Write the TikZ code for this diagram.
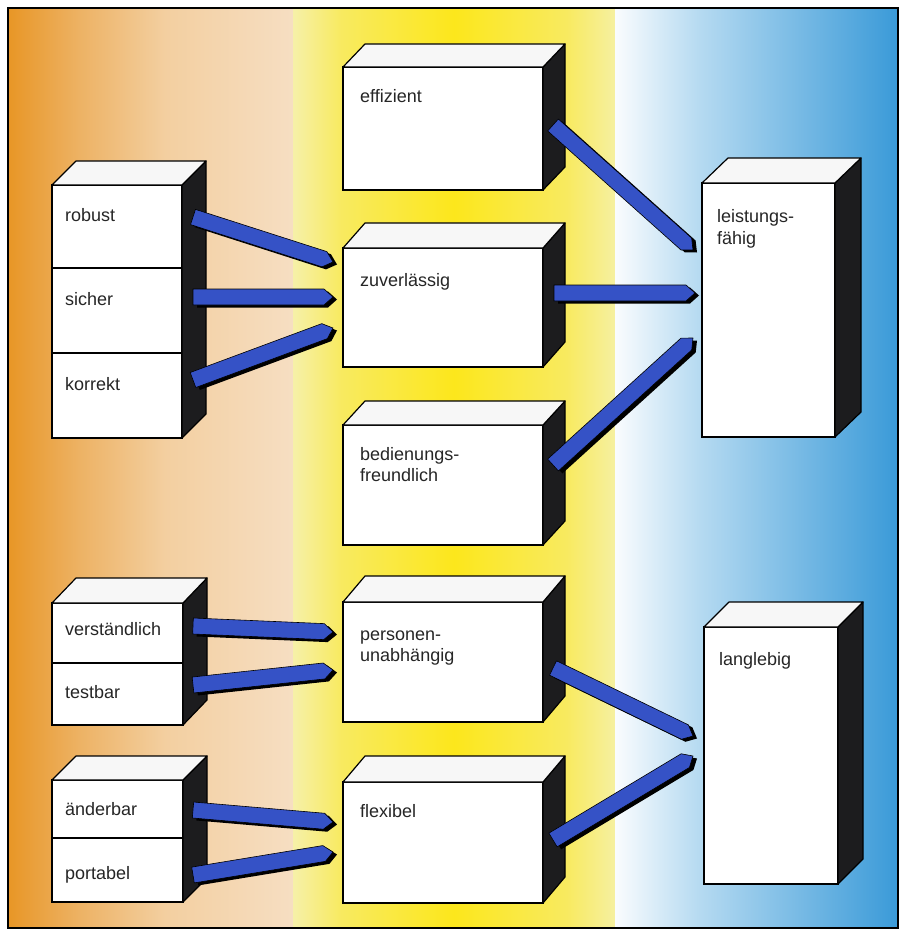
\documentclass[tikz,border=0pt]{standalone}
\usepackage{fontspec}
\setmainfont{Liberation Sans}
\usetikzlibrary{calc}
\definecolor{bandblue}{HTML}{3552C6}
\definecolor{sideclr}{HTML}{1C1C1E}
\definecolor{txt}{HTML}{262626}
\pgfdeclarehorizontalshading{orgshade}{100bp}{%
  color(0bp)=(rgb,255:red,232;green,150;blue,38);
  color(25bp)=(rgb,255:red,232;green,150;blue,38);
  color(37.5bp)=(rgb,255:red,237;green,178;blue,100);
  color(52.5bp)=(rgb,255:red,243;green,207;blue,160);
  color(75bp)=(rgb,255:red,246;green,222;blue,194);
  color(100bp)=(rgb,255:red,246;green,222;blue,194)}
\pgfdeclarehorizontalshading{ylwshade}{100bp}{%
  color(0bp)=(rgb,255:red,246;green,240;blue,168);
  color(25bp)=(rgb,255:red,246;green,240;blue,168);
  color(32.5bp)=(rgb,255:red,248;green,234;blue,96);
  color(50bp)=(rgb,255:red,252;green,231;blue,28);
  color(67.5bp)=(rgb,255:red,248;green,234;blue,96);
  color(75bp)=(rgb,255:red,246;green,240;blue,160);
  color(100bp)=(rgb,255:red,246;green,240;blue,160)}
\pgfdeclarehorizontalshading{blushade}{100bp}{%
  color(0bp)=(rgb,255:red,250;green,252;blue,254);
  color(25bp)=(rgb,255:red,250;green,252;blue,254);
  color(40bp)=(rgb,255:red,181;green,218;blue,241);
  color(75bp)=(rgb,255:red,58;green,154;blue,216);
  color(100bp)=(rgb,255:red,58;green,154;blue,216)}

\newcommand\cubefaces[3]{%
  \coordinate (cfNE) at (#2.north east |- #1.north west);
  \filldraw[sideface] (cfNE) -- ($(cfNE)+(#3)$) -- ($(#2.south east)+(#3)$) -- (#2.south east) -- cycle;
  \filldraw[topface] (#1.north west) -- ($(#1.north west)+(#3)$) -- ($(cfNE)+(#3)$) -- (cfNE) -- cycle;
}
\newcommand\bandarrow[2]{%
  \coordinate (bB) at ($(#2)!9pt!(#1)$);
  \fill[black, transform canvas={shift={(4pt,-2.5pt)}}]
    ($(#1)!8pt!90:(#2)$) -- ($(bB)!8pt!90:(#2)$) -- (#2) -- ($(bB)!8pt!-90:(#2)$) -- ($(#1)!8pt!-90:(#2)$) -- cycle;
  \filldraw[bandfill]
    ($(#1)!8pt!90:(#2)$) -- ($(bB)!8pt!90:(#2)$) -- (#2) -- ($(bB)!8pt!-90:(#2)$) -- ($(#1)!8pt!-90:(#2)$) -- cycle;
}

\begin{document}
\begin{tikzpicture}[x=1pt,y=-1pt,
  front/.style={draw=black, line width=1.2pt, fill=white, inner sep=0pt, outer sep=0pt, anchor=north west},
  sideface/.style={fill=sideclr, draw=black, line width=1.2pt, line join=round},
  topface/.style={fill=white!97!black, draw=black, line width=1.2pt, line join=round},
  bandfill/.style={fill=bandblue, draw=black, line width=0.6pt, line join=round},
  lbl/.style={anchor=base west, inner sep=0pt, text=txt, align=left, font=\fontsize{18}{21.5}\selectfont}]
\useasboundingbox (0,0) rectangle (906,933);
\fill[white] (0,0) rectangle (906,933);
% background bands
\shade[shading=orgshade] (8,8) rectangle (293,928);
\shade[shading=ylwshade] (293,8) rectangle (615,928);
\shade[shading=blushade] (615,8) rectangle (898,928);
\draw[black, line width=1.4pt] (8,8) rectangle (898,928);

% left boxes
\node[front, minimum width=130, minimum height=83] (robust) at (52,185) {};
\node[front, minimum width=130, minimum height=85] (sicher) at (52,268) {};
\node[front, minimum width=130, minimum height=85] (korrekt) at (52,353) {};
\cubefaces{robust}{korrekt}{24,-24}
\node[front, minimum width=131, minimum height=60] (vers) at (52,603) {};
\node[front, minimum width=131, minimum height=62] (test) at (52,663) {};
\cubefaces{vers}{test}{24,-25}
\node[front, minimum width=131, minimum height=58] (aend) at (52,780) {};
\node[front, minimum width=131, minimum height=64] (port) at (52,838) {};
\cubefaces{aend}{port}{24,-24}

% middle boxes
\node[front, minimum width=200, minimum height=123] (eff) at (343,67) {};
\cubefaces{eff}{eff}{22,-23}
\node[front, minimum width=200, minimum height=119] (zuv) at (343,248) {};
\cubefaces{zuv}{zuv}{22,-25}
\node[front, minimum width=200, minimum height=120] (bed) at (343,425) {};
\cubefaces{bed}{bed}{22,-24}
\node[front, minimum width=200, minimum height=120] (pers) at (343,602) {};
\cubefaces{pers}{pers}{22,-26}
\node[front, minimum width=200, minimum height=121] (flex) at (343,782) {};
\cubefaces{flex}{flex}{22,-26}

% right boxes
\node[front, minimum width=133, minimum height=254] (leist) at (702,183) {};
\cubefaces{leist}{leist}{26,-25}
\node[front, minimum width=134, minimum height=257] (lang) at (704,627) {};
\cubefaces{lang}{lang}{25,-25}

% labels
\node[lbl] (trobust) at ($(robust.north west)+(13,37)$) {robust};
\node[lbl] (tsicher) at ($(sicher.north west)+(13,37)$) {sicher};
\node[lbl] (tkorrekt) at ($(korrekt.north west)+(13,37)$) {korrekt};
\node[lbl] (tvers) at ($(vers.north west)+(13,32)$) {verständlich};
\node[lbl] (ttest) at ($(test.north west)+(13,35)$) {testbar};
\node[lbl] (taend) at ($(aend.north west)+(13,35)$) {änderbar};
\node[lbl] (tport) at ($(port.north west)+(13,41)$) {portabel};
\node[lbl] (teff) at ($(eff.north west)+(17,36)$) {effizient};
\node[lbl] (tzuv) at ($(zuv.north west)+(17,38)$) {zuverlässig};
\node[lbl] (tbed) at ($(bed.north west)+(17,56.5)$) {bedienungs-\\freundlich};
\node[lbl] (tpers) at ($(pers.north west)+(17,59.5)$) {personen-\\unabhängig};
\node[lbl] (tflex) at ($(flex.north west)+(17,35)$) {flexibel};
\node[lbl] (tleist) at ($(leist.north west)+(15,61)$) {leistungs-\\fähig};
\node[lbl] (tlang) at ($(lang.north west)+(15,38)$) {langlebig};

% connector end points
\coordinate (s1) at ($(robust.east)+(11,-9.5)$);
\coordinate (t1) at ($(zuv.west)+(-10,-45.5)$);
\coordinate (s2) at ($(sicher.east)+(11,-13.5)$);
\coordinate (t2) at ($(zuv.west)+(-10,-10.5)$);
\coordinate (s3) at ($(korrekt.east)+(11,-15.5)$);
\coordinate (t3) at ($(zuv.west)+(-10,20.5)$);
\coordinate (s4) at ($(eff.east)+(10,-3.5)$);
\coordinate (t4) at ($(leist.west)+(-9,-60)$);
\coordinate (s5) at ($(zuv.east)+(11,-14.5)$);
\coordinate (t5) at ($(leist.west)+(-7,-17)$);
\coordinate (s6) at ($(bed.east)+(10,-20)$);
\coordinate (t6) at ($(leist.west)+(-9,28)$);
\coordinate (s7) at ($(vers.east)+(10,-7)$);
\coordinate (t7) at ($(pers.west)+(-10,-30)$);
\coordinate (s8) at ($(test.east)+(10,-9)$);
\coordinate (t8) at ($(pers.west)+(-10,8)$);
\coordinate (s9) at ($(aend.east)+(10,1)$);
\coordinate (t9) at ($(flex.west)+(-10,-20.5)$);
\coordinate (s10) at ($(port.east)+(10,5)$);
\coordinate (t10) at ($(flex.west)+(-10,9.5)$);
\coordinate (s11) at ($(pers.east)+(10,6)$);
\coordinate (t11) at ($(lang.west)+(-11,-19.5)$);
\coordinate (s12) at ($(flex.east)+(10,-2.5)$);
\coordinate (t12) at ($(lang.west)+(-11,0.5)$);

\bandarrow{s1}{t1}
\bandarrow{s2}{t2}
\bandarrow{s3}{t3}
\bandarrow{s4}{t4}
\bandarrow{s5}{t5}
\bandarrow{s6}{t6}
\bandarrow{s7}{t7}
\bandarrow{s8}{t8}
\bandarrow{s9}{t9}
\bandarrow{s10}{t10}
\bandarrow{s11}{t11}
\bandarrow{s12}{t12}
\end{tikzpicture}
\end{document}
